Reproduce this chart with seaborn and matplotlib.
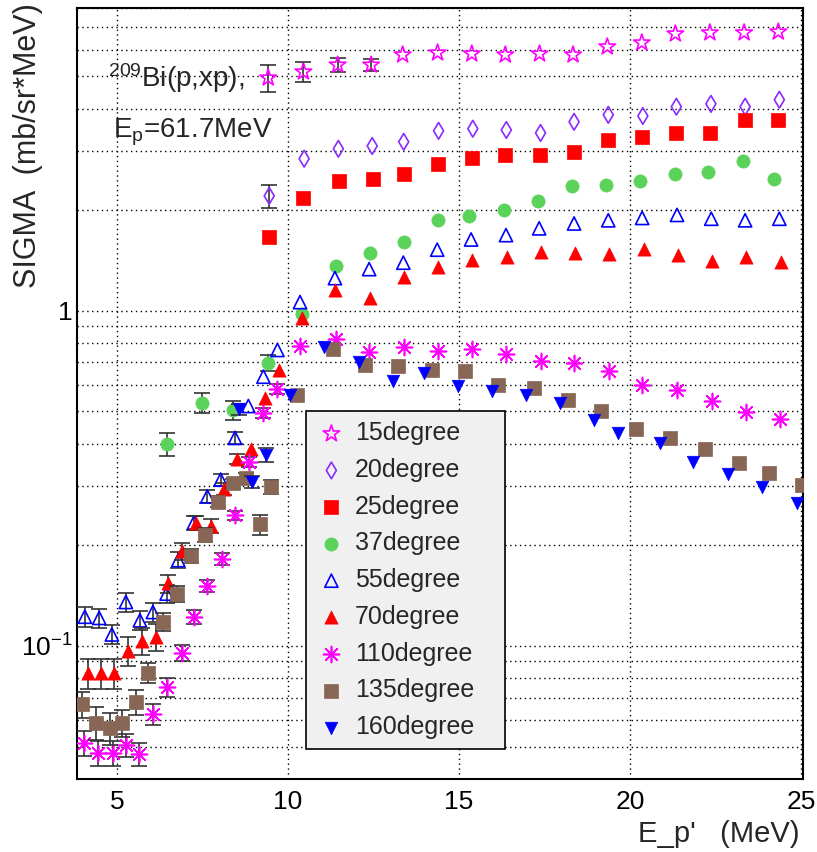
import numpy as np
import matplotlib
matplotlib.use("Agg")
import matplotlib.pyplot as plt
import seaborn as sns
from matplotlib.ticker import LogLocator, MultipleLocator, FuncFormatter, NullFormatter

# 209Bi(p,xp) at Ep = 61.7 MeV, cross sections per angle (mb/sr/MeV)
ang15_e = [9.42, 10.45, 11.45, 12.43, 13.35, 14.37, 15.37, 16.35, 17.35, 18.33, 19.33, 20.34, 21.32, 22.33, 23.33, 24.33]
ang15_y = [4.95, 5.16, 5.41, 5.41, 5.80, 5.88, 5.84, 5.80, 5.84, 5.80, 6.13, 6.30, 6.70, 6.75, 6.75, 6.79]
ang15_err = [0.47, 0.36, 0.27, 0.22, 0, 0, 0, 0, 0, 0, 0, 0, 0, 0, 0, 0]

ang20_e = [9.45, 10.47, 11.47, 12.46, 13.38, 14.4, 15.4, 16.38, 17.38, 18.36, 19.36, 20.37, 21.35, 22.36, 23.36, 24.36]
ang20_y = [2.20, 2.84, 3.04, 3.10, 3.19, 3.44, 3.49, 3.46, 3.39, 3.66, 3.84, 3.81, 4.06, 4.14, 4.06, 4.26]
ang20_err = [0.17, 0, 0, 0, 0, 0, 0, 0, 0, 0, 0, 0, 0, 0, 0, 0]

ang25_e = [9.45, 10.45, 11.49, 12.49, 13.39, 14.38, 15.37, 16.35, 17.37, 18.35, 19.36, 20.35, 21.35, 22.34, 23.35, 24.33]
ang25_y = [1.66, 2.17, 2.44, 2.47, 2.56, 2.73, 2.86, 2.92, 2.92, 2.98, 3.23, 3.30, 3.39, 3.39, 3.71, 3.71]
ang25_err = [0] * 16

ang37_e = [6.45, 7.48, 8.40, 9.42, 10.40, 11.40, 12.40, 13.39, 14.39, 15.30, 16.30, 17.30, 18.30, 19.30, 20.30, 21.30, 22.28, 23.30, 24.20]
ang37_y = [0.399, 0.531, 0.505, 0.697, 0.978, 1.36, 1.49, 1.60, 1.87, 1.92, 2.00, 2.12, 2.35, 2.37, 2.43, 2.55, 2.59, 2.80, 2.47]
ang37_err = [0.031, 0.037, 0.032, 0.039, 0, 0, 0, 0, 0, 0, 0, 0, 0, 0, 0, 0, 0, 0, 0]

ang55_e = [4.06, 4.48, 4.85, 5.26, 5.67, 6.05, 6.45, 6.79, 7.25, 7.64, 8.03, 8.45, 8.84, 9.28, 9.69,
           10.35, 11.37, 12.37, 13.37, 14.36, 15.35, 16.37, 17.34, 18.36, 19.36, 20.35, 21.37, 22.37, 23.36, 24.36]
ang55_y = [0.122, 0.121, 0.108, 0.135, 0.119, 0.126, 0.143, 0.180, 0.233, 0.279, 0.313, 0.417, 0.519, 0.635, 0.763,
           1.06, 1.25, 1.33, 1.39, 1.52, 1.63, 1.68, 1.76, 1.82, 1.86, 1.89, 1.93, 1.88, 1.86, 1.88]
ang55_err = [0.008, 0.008, 0.007, 0.009, 0.008, 0.008, 0.009, 0.010, 0.011, 0.012, 0.013, 0.016, 0, 0, 0,
             0, 0, 0, 0, 0, 0, 0, 0, 0, 0, 0, 0, 0, 0, 0]

ang70_e = [4.14, 4.52, 4.91, 5.33, 5.72, 6.14, 6.50, 6.89, 7.31, 7.74, 8.12, 8.51, 8.91, 9.33, 9.74,
           10.40, 11.37, 12.40, 13.39, 14.39, 15.39, 16.39, 17.39, 18.39, 19.39, 20.39, 21.39, 22.40, 23.39, 24.40]
ang70_y = [0.0827, 0.0827, 0.0827, 0.0966, 0.1035, 0.1064, 0.1535, 0.191, 0.232, 0.228, 0.293, 0.361, 0.386, 0.548, 0.665,
           0.949, 1.153, 1.089, 1.258, 1.348, 1.417, 1.443, 1.50, 1.483, 1.476, 1.525, 1.466, 1.41, 1.443, 1.40]
ang70_err = [0.0083, 0.0083, 0.0083, 0.0097, 0.0095, 0.0098, 0.0095, 0.011, 0.011, 0.011, 0.012, 0.012, 0, 0, 0,
             0, 0, 0, 0, 0, 0, 0, 0, 0, 0, 0, 0, 0, 0, 0]

ang110_e = [4.04, 4.45, 4.87, 5.26, 5.64, 6.06, 6.47, 6.89, 7.25, 7.64, 8.06, 8.45, 8.86, 9.26, 9.69,
            10.35, 11.40, 12.38, 13.39, 14.38, 15.39, 16.37, 17.39, 18.37, 19.38, 20.36, 21.38, 22.38, 23.38, 24.39]
ang110_y = [0.0511, 0.0477, 0.0477, 0.0506, 0.0475, 0.0625, 0.0751, 0.0953, 0.122, 0.151, 0.181, 0.245, 0.353, 0.494, 0.582,
            0.786, 0.822, 0.751, 0.781, 0.760, 0.767, 0.743, 0.708, 0.697, 0.658, 0.600, 0.580, 0.539, 0.499, 0.475]
ang110_err = [0.0044, 0.0041, 0.0041, 0.0040, 0.0037, 0.0045, 0.0048, 0.0054, 0.0057, 0.006, 0.0075, 0.008, 0.012, 0.017, 0.02,
              0, 0, 0, 0, 0, 0, 0, 0, 0, 0, 0, 0, 0, 0, 0]

ang135_e = [3.99, 4.39, 4.80, 5.14, 5.56, 5.92, 6.35, 6.75, 7.15, 7.57, 7.96, 8.38, 8.76, 9.18, 9.50,
            10.26, 11.32, 12.25, 13.22, 14.20, 15.18, 16.15, 17.19, 18.17, 19.14, 20.18, 21.15, 22.19, 23.17, 24.06, 25.02]
ang135_y = [0.0668, 0.0589, 0.0567, 0.0587, 0.068, 0.083, 0.118, 0.143, 0.185, 0.214, 0.269, 0.305, 0.317, 0.230, 0.298,
            0.560, 0.767, 0.688, 0.681, 0.665, 0.658, 0.600, 0.587, 0.541, 0.503, 0.443, 0.418, 0.386, 0.350, 0.327, 0.302]
ang135_err = [0.006, 0.0065, 0.0062, 0.0055, 0.0058, 0.0058, 0.0075, 0.008, 0.0088, 0.01, 0.01, 0.01, 0.01, 0.016, 0.014,
              0, 0, 0, 0, 0, 0, 0, 0, 0, 0, 0, 0, 0, 0, 0, 0]

ang160_e = [8.58, 8.96, 9.37, 10.06, 11.04, 12.08, 13.06, 13.96, 14.96, 15.96, 16.96, 17.95, 18.95, 19.65, 20.86, 21.85, 22.86, 23.85, 24.87]
ang160_y = [0.508, 0.308, 0.371, 0.560, 0.781, 0.700, 0.618, 0.650, 0.597, 0.576, 0.560, 0.529, 0.472, 0.432, 0.402, 0.354, 0.325, 0.298, 0.267]
ang160_err = [0.02, 0.012, 0.018, 0, 0, 0, 0, 0, 0, 0, 0, 0, 0, 0, 0, 0, 0, 0, 0]

labels = ["15degree", "20degree", "25degree", "37degree", "55degree",
          "70degree", "110degree", "135degree", "160degree"]
energies = [ang15_e, ang20_e, ang25_e, ang37_e, ang55_e, ang70_e, ang110_e, ang135_e, ang160_e]
sigmas = [ang15_y, ang20_y, ang25_y, ang37_y, ang55_y, ang70_y, ang110_y, ang135_y, ang160_y]
errors = [ang15_err, ang20_err, ang25_err, ang37_err, ang55_err, ang70_err, ang110_err, ang135_err, ang160_err]

# marker style per series: (marker, colour, open?, size in pt)
styles = [
    ("*", "#ff00ff", True, 12.5),
    ("d", "#8a2aff", True, 8.5),
    ("s", "#ff0000", False, 10),
    ("o", "#5bd35b", False, 9.5),
    ("^", "#0000ff", True, 9.5),
    ("^", "#ff0000", False, 9.5),
    ((8, 2, 0), "#ff00ff", False, 11.5),
    ("s", "#876655", False, 10.5),
    ("v", "#0000ff", False, 9),
]

sns.set_style("white")
plt.rcParams["font.family"] = ["Liberation Sans", "DejaVu Sans"]
plt.rcParams["mathtext.fontset"] = "custom"
plt.rcParams["mathtext.rm"] = "Liberation Sans"
plt.rcParams["mathtext.it"] = "Liberation Sans"

fig = plt.figure(figsize=(8.17, 8.52), dpi=100)
ax = fig.add_axes([0.0942, 0.0857, 0.8886, 0.9049])

for i, (lab, e, s, err, st) in enumerate(zip(labels, energies, sigmas, errors, styles)):
    marker, col, hollow, ms = st
    e = np.array(e)
    s = np.array(s)
    err = np.array(err)
    m = err > 0
    if m.any():
        ax.errorbar(e[m], s[m], yerr=err[m], fmt="none", ecolor="#333333",
                    elinewidth=1.2, capsize=6, capthick=1.2, zorder=3 + 2 * i)
    kw = dict(x=e, y=s, ax=ax, label=lab, marker=marker, s=ms ** 2, zorder=4 + 2 * i)
    if isinstance(marker, tuple):
        sns.scatterplot(color=col, linewidth=1.2, **kw)
    elif hollow:
        sns.scatterplot(color=col, facecolor="none", edgecolor=col, linewidth=1.2, **kw)
    else:
        sns.scatterplot(color=col, edgecolor=col, linewidth=0.5, **kw)

ax.set_yscale("log")
ax.set_xlim(3.83, 25.05)
ax.set_ylim(0.04, 8.0)

ax.xaxis.set_major_locator(MultipleLocator(5))
ax.xaxis.set_minor_locator(MultipleLocator(1))
ax.yaxis.set_major_locator(LogLocator(base=10))
ax.yaxis.set_minor_locator(LogLocator(base=10, subs=np.arange(2, 10)))
ax.yaxis.set_minor_formatter(NullFormatter())
ax.yaxis.set_major_formatter(FuncFormatter(
    lambda v, p: "1" if abs(v - 1) < 1e-9 else (r"$\mathregular{10^{-1}}$" if abs(v - 0.1) < 1e-9 else "")))
ax.xaxis.set_major_formatter(FuncFormatter(lambda v, p: "%d" % v))

ax.tick_params(which="both", direction="in", top=False, right=False, colors="black", width=1)
ax.tick_params(which="major", length=15, labelsize=19)
ax.tick_params(axis="x", which="major", pad=8)
ax.tick_params(axis="y", which="major", pad=3)
ax.tick_params(which="minor", length=8)

ax.set_axisbelow(True)
ax.grid(axis="y", which="both", color="black", linestyle=(0, (1, 2.5)), linewidth=1)
ax.grid(axis="x", which="major", color="black", linestyle=(0, (1, 2.5)), linewidth=1)
for sp in ax.spines.values():
    sp.set_color("black")
    sp.set_linewidth(1.5)

ax.set_xlabel("")
ax.set_ylabel("")
fig.text(800 / 817, 1 - 842 / 852, "E_p'   (MeV)", ha="right", va="baseline", fontsize=21)
fig.text(28 / 817, 1 - 3 / 852, "SIGMA  (mb/sr*MeV)", rotation=90, ha="center", va="top", fontsize=22)

fig.text(108 / 817, 1 - 87 / 852, r"$\mathregular{^{209}}$Bi(p,xp),", ha="left", va="baseline", fontsize=20)
fig.text(113 / 817, 1 - 137 / 852, r"E$\mathregular{_{p}}$=61.7MeV", ha="left", va="baseline", fontsize=20)

leg = ax.legend(loc="upper left", bbox_to_anchor=(0.316, 0.047, 0.274, 0.43), mode="expand",
                fontsize=18, frameon=True, fancybox=False, framealpha=1,
                facecolor="#f0f0f0", edgecolor="black", borderpad=0.4,
                labelspacing=0.51, handlelength=1.2, handletextpad=0.35, borderaxespad=0)
leg.get_frame().set_linewidth(1.2)
leg.set_zorder(100)

fig.savefig("out.png", dpi=100)
